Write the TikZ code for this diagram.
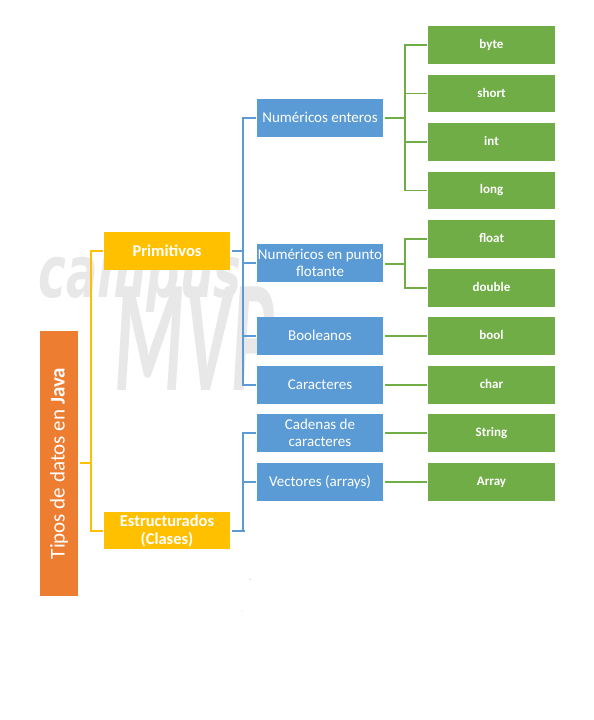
\documentclass[tikz,border=0pt]{standalone}
\usepackage{fontspec}
\setmainfont{Carlito}
\newfontfamily\markfont{DejaVu Sans}
\definecolor{rootcol}{HTML}{ED7D31}
\definecolor{yellowcol}{HTML}{FFC000}
\definecolor{bluecol}{HTML}{5B9BD5}
\definecolor{greencol}{HTML}{70AD47}
\definecolor{markcol}{HTML}{E8E8E8}
\newcommand{\lift}[1]{\raisebox{1.5pt}{#1}}
\tikzset{
  box/.style={inner sep=0pt, outer sep=1.5pt, minimum width=126pt, minimum height=38pt, text=white, align=center},
  yellowbox/.style={box, fill=yellowcol, font=\fontsize{16.5}{18}\selectfont\bfseries},
  bluebox/.style={box, fill=bluecol, font=\fontsize{15}{16.5}\selectfont},
  greenbox/.style={box, minimum width=127pt, fill=greencol, font=\fontsize{13}{14}\selectfont\bfseries},
  yellowline/.style={draw=yellowcol, line width=1.2pt},
  blueline/.style={draw=bluecol, line width=1.2pt},
  greenline/.style={draw=greencol, line width=1.1pt},
}
\begin{document}
\begin{tikzpicture}[x=1pt, y=-1pt]
\useasboundingbox (0,0) rectangle (594,720);

% Watermark
\node[text=markcol, font=\fontsize{72}{72}\markfont\bfseries\itshape, inner sep=0pt, xscale=0.65, anchor=base] (markA) at (140,297) {campus};
\node[text=markcol, font=\fontsize{160}{160}\selectfont\bfseries\itshape, inner sep=0pt, xscale=0.5, anchor=base] (markB) at (194,390) {MVP};
\fill[gray] (250,579) circle (0.5pt);
\fill[gray!50] (242,611) circle (0.5pt);

% Root and first level
\node[box, fill=rootcol, minimum width=38pt, minimum height=265pt, font=\fontsize{21}{24}\selectfont] (root) at (59,463.5) {\rotatebox{90}{Tipos de datos en \textbf{Java}}};
\node[yellowbox] (prim) at (167,251) {\lift{Primitivos}};
\node[yellowbox, minimum height=37pt] (estr) at (167,530.5) {Estructurados\\(Clases)};

% Second level
\node[bluebox] (enteros) at (320,118) {\lift{Numéricos enteros}};
\node[bluebox] (flotante) at (320,263) {Numéricos en punto\\flotante};
\node[bluebox] (booleanos) at (320,336) {\lift{Booleanos}};
\node[bluebox] (caracteres) at (320,385) {\lift{Caracteres}};
\node[bluebox] (cadenas) at (320,433) {Cadenas de\\caracteres};
\node[bluebox] (vectores) at (320,482) {\lift{Vectores (arrays)}};

% Third level
\node[greenbox] (byte) at (491.5,45) {\lift{byte}};
\node[greenbox, minimum height=37pt] (short) at (491.5,93.5) {\lift{short}};
\node[greenbox] (int) at (491.5,142) {\lift{int}};
\node[greenbox, minimum height=37pt] (long) at (491.5,190.5) {\lift{long}};
\node[greenbox] (float) at (491.5,239) {\lift{float}};
\node[greenbox] (double) at (491.5,288) {\lift{double}};
\node[greenbox] (bool) at (491.5,336) {\lift{bool}};
\node[greenbox] (char) at (491.5,385) {\lift{char}};
\node[greenbox] (string) at (491.5,433) {\lift{String}};
\node[greenbox] (array) at (491.5,482) {\lift{Array}};

% Bus points
\coordinate (busR) at (91,463);
\coordinate (busP) at (243,251);
\coordinate (busE) at (243,531);
\coordinate (busEnd) at (245,531);
\coordinate (busN) at (405,118);
\coordinate (busF) at (405,264);

% Yellow lines
\draw[yellowline] (root.east |- busR) -- (busR);
\draw[yellowline] (busR) |- (prim.west);
\draw[yellowline] (busR) |- (estr.west |- busE);

% Blue lines
\draw[blueline] (prim.east) -- (busP);
\draw[blueline] (busP) |- (enteros.west);
\draw[blueline] (busP) |- (flotante.west);
\draw[blueline] (busP) |- (booleanos.west);
\draw[blueline] (busP) |- (caracteres.west);
\draw[blueline] (estr.east |- busE) -- (busEnd);
\draw[blueline] (busE) |- (cadenas.west);
\draw[blueline] (busE) |- (vectores.west);

% Green lines
\draw[greenline] (enteros.east) -- (busN);
\draw[greenline] (busN) |- (byte.west);
\draw[greenline] (busN) |- (short.west);
\draw[greenline] (busN) |- (int.west);
\draw[greenline] (busN) |- (long.west);
\draw[greenline] (flotante.east |- busF) -- (busF);
\draw[greenline] (busF) |- (float.west);
\draw[greenline] (busF) |- (double.west);
\draw[greenline] (booleanos.east) -- (bool.west);
\draw[greenline] (caracteres.east) -- (char.west);
\draw[greenline] (cadenas.east) -- (string.west);
\draw[greenline] (vectores.east) -- (array.west);

\end{tikzpicture}
\end{document}
